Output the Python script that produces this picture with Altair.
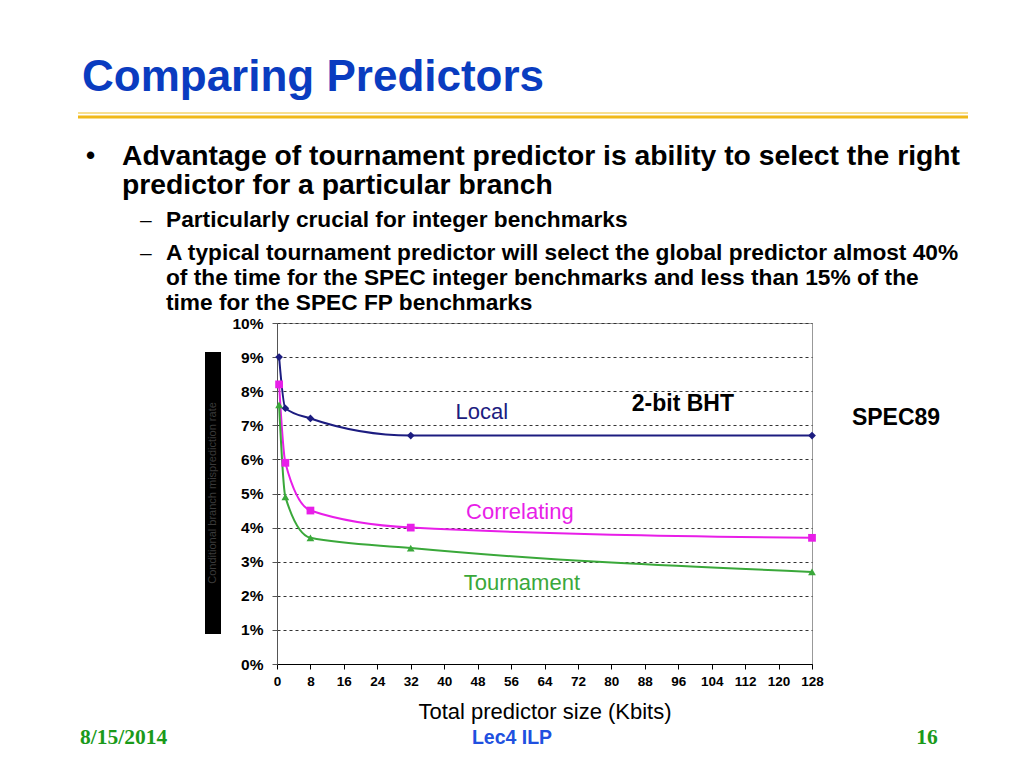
import altair as alt
import pandas as pd

sizes = [0.5, 2, 8, 32, 128]
local = [0.090, 0.075, 0.072, 0.067, 0.067]
correlating = [0.082, 0.059, 0.045, 0.040, 0.037]
tournament = [0.076, 0.049, 0.037, 0.034, 0.027]
series_names = ["Local", "Correlating", "Tournament"]
x_ticks = list(range(0, 129, 8))
y_ticks = [i / 100 for i in range(0, 11)]

rows = []
for name, vals in zip(series_names, [local, correlating, tournament]):
    for s, v in zip(sizes, vals):
        rows.append({"size": s, "rate": v, "predictor": name})
df = pd.DataFrame(rows)

labels_df = pd.DataFrame({
    "text": ["Local", "Correlating", "Tournament"],
    "size": [49.0, 58.1, 58.6],
    "rate": [0.0739, 0.0446, 0.0238],
    "predictor": series_names,
})
notes_df = pd.DataFrame({
    "text": ["2-bit BHT", "SPEC89"],
    "size": [97.1, 148.1],
    "rate": [0.0762, 0.0721],
})

colors = ["#1c1c80", "#e81ee8", "#3aa83a"]
shapes = ["diamond", "square", "triangle-up"]

xs = alt.X("size:Q", scale=alt.Scale(domain=[0, 128], nice=False),
           axis=alt.Axis(values=x_ticks, title="Total predictor size (Kbits)", grid=False,
                         labelOverlap=False, labelFlush=False))
ys = alt.Y("rate:Q", scale=alt.Scale(domain=[0, 0.10], nice=False),
           axis=alt.Axis(values=y_ticks, format=".0%", title=None, grid=True,
                         labelOverlap=False))
color = alt.Color("predictor:N", scale=alt.Scale(domain=series_names, range=colors), legend=None)
shape = alt.Shape("predictor:N", scale=alt.Scale(domain=series_names, range=shapes), legend=None)

lines = alt.Chart(df).mark_line(interpolate="monotone", strokeWidth=2).encode(x=xs, y=ys, color=color)
points = alt.Chart(df).mark_point(filled=True, size=60, opacity=1).encode(x=xs, y=ys, color=color, shape=shape)
series_labels = alt.Chart(labels_df).mark_text(font="Liberation Sans", fontSize=22, align="center", baseline="middle").encode(
    x=xs, y=ys, text="text:N", color=color)
chart_notes = alt.Chart(notes_df).mark_text(font="Liberation Sans", fontSize=23, fontWeight="bold",
                                            color="black", clip=False).encode(x=xs, y=ys, text="text:N")

def note(text, x, y, size, color="black", weight="bold", font="Liberation Sans", align="left"):
    return alt.Chart(pd.DataFrame({"t": [text]})).mark_text(
        font=font, fontSize=size, fontWeight=weight, color=color, align=align,
        baseline="alphabetic", clip=False).encode(x=alt.value(x), y=alt.value(y), text="t:N")

ox, oy = 277, 323  # plot origin on page
def P(px, py):
    return px - ox, py - oy

layers = [lines, points, series_labels, chart_notes]

# y-axis title box
bx1, by1 = P(205, 352)
bx2, by2 = P(221, 634)
layers.append(alt.Chart(pd.DataFrame({"a": [0]})).mark_rect(color="black").encode(
    x=alt.value(bx1), x2=alt.value(bx2), y=alt.value(by1), y2=alt.value(by2)))
cx, cy = P(213, 493)
layers.append(alt.Chart(pd.DataFrame({"t": ["Conditional branch misprediction rate"]})).mark_text(
    font="Liberation Sans", fontSize=11, color="#3a3a3a", angle=270, align="center", baseline="middle").encode(
    x=alt.value(cx), y=alt.value(cy), text="t:N"))

# slide header
layers.append(note("Comparing Predictors", *P(82, 91), 44, color="#0a3cc0"))
rx1, ry = P(78, 113)
rx2, _ = P(968, 113)
layers.append(alt.Chart(pd.DataFrame({"a": [0]})).mark_rule(color="#f0c020", strokeWidth=1).encode(
    x=alt.value(rx1), x2=alt.value(rx2), y=alt.value(ry)))
layers.append(alt.Chart(pd.DataFrame({"a": [0]})).mark_rule(color="#f0b818", strokeWidth=3).encode(
    x=alt.value(rx1), x2=alt.value(rx2), y=alt.value(ry + 4)))

layers.append(note("•", *P(86, 164), 26))
layers.append(note("Advantage of tournament predictor is ability to select the right", *P(122, 165), 28.3))
layers.append(note("predictor for a particular branch", *P(122, 194), 28.3))
layers.append(note("–", *P(140, 227), 21, weight="normal"))
layers.append(note("Particularly crucial for integer benchmarks", *P(166, 227), 22.7))
layers.append(note("–", *P(140, 260), 21, weight="normal"))
layers.append(note("A typical tournament predictor will select the global predictor almost 40%", *P(166, 260), 22.7))
layers.append(note("of the time for the SPEC integer benchmarks and less than 15% of the", *P(166, 285), 22.7))
layers.append(note("time for the SPEC FP benchmarks", *P(166, 310), 22.7))

# footer
layers.append(note("8/15/2014", *P(80, 744), 21.5, color="#1a9a1a", font="Liberation Serif"))
layers.append(note("Lec4 ILP", *P(512, 744), 19.5, color="#2050e0", align="center"))
layers.append(note("16", *P(927, 744), 21.5, color="#1a9a1a", font="Liberation Serif", align="center"))

chart = alt.layer(*layers).properties(
    width=535, height=341,
    autosize=alt.AutoSizeParams(type="none"),
    padding={"left": 269, "top": 315, "right": 204, "bottom": 96},
    background="white",
).configure_view(stroke="#999999", strokeWidth=1).configure_axis(
    labelFontWeight="bold", labelColor="black", labelFont="Liberation Sans",
    tickSize=5, titleFont="Liberation Sans", titleColor="black",
).configure_axisX(
    labelFontSize=13.5, domainColor="black", tickColor="black", labelPadding=5,
    titleFontSize=22, titleFontWeight="normal", titlePadding=14,
).configure_axisY(
    labelFontSize=15.5, domainColor="#555", tickColor="#555", labelPadding=9,
    gridDash=[3, 3], gridColor="#333", gridWidth=1,
)

chart.save("out.html", embed_options={"renderer": "svg", "actions": False})
